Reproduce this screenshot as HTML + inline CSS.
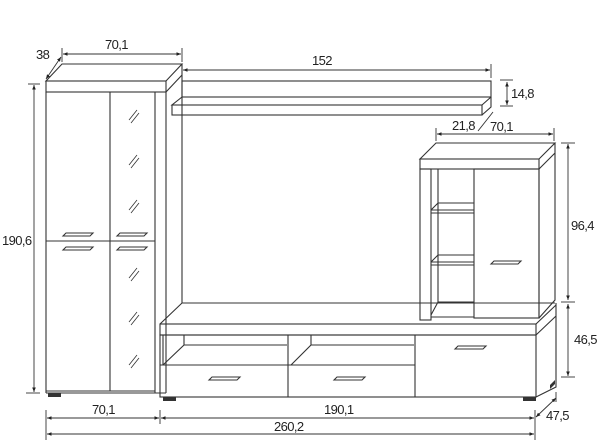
<!DOCTYPE html>
<html><head><meta charset="utf-8"><style>
html,body{margin:0;padding:0;background:#fff;}
svg{display:block}
text{font-family:"Liberation Sans",sans-serif;font-size:13px;fill:#222;letter-spacing:-0.6px}
</style></head><body>
<svg width="600" height="448" viewBox="0 0 600 448" xmlns="http://www.w3.org/2000/svg">
<defs><marker id="a" markerWidth="6" markerHeight="6" refX="5" refY="3" orient="auto-start-reverse"><path d="M0,1 L5,3 L0,5z" fill="#222"/></marker></defs>
<g fill="none" stroke="#333" stroke-width="1.1">
<path d="M46,81 L62,64 L182,64 L166,81 Z"/>
<rect x="46" y="81" width="120" height="11"/>
<path d="M166,92 L182,75"/>
<line x1="182" y1="64" x2="182" y2="303"/>
<line x1="166" y1="92" x2="166" y2="393"/>
<line x1="46" y1="92" x2="46" y2="393"/>
<line x1="155" y1="92" x2="155" y2="393"/>
<line x1="110" y1="92" x2="110" y2="391"/>
<line x1="46" y1="241" x2="155" y2="241"/>
<line x1="46" y1="391" x2="155" y2="391"/>
<line x1="46" y1="393" x2="166" y2="393"/>
<path d="M129,120 l8,-10 M131,123 l8,-10 M129,165 l8,-10 M131,168 l8,-10 M129,210 l8,-10 M131,213 l8,-10 M129,278 l8,-10 M131,281 l8,-10 M129,322 l8,-10 M131,325 l8,-10 M129,365 l8,-10 M131,368 l8,-10" stroke-width="0.8"/>
<path d="M63,236 l3,-3 h27 l-3,3 z M117,236 l3,-3 h27 l-3,3 z M63,250 l3,-3 h27 l-3,3 z M117,250 l3,-3 h27 l-3,3 z"/>
<rect x="182" y="81" width="309" height="16"/>
<path d="M182,97 L172,105 L482,105 L491,97"/>
<rect x="172" y="105" width="310" height="10"/>
<path d="M482,115 L491,107 L491,97"/>
<path d="M420,159 L436,143 L555,143 L539,159 Z"/>
<rect x="420" y="159" width="119" height="10"/>
<path d="M539,169 L555,153 M555,143 L555,300 L539,318"/>
<line x1="539" y1="169" x2="539" y2="318"/>
<rect x="420" y="169" width="11" height="151"/>
<rect x="474" y="169" width="65" height="149"/>
<line x1="438" y1="169" x2="438" y2="302"/>
<path d="M431,210 L438,203 L474,203 M431,210 H474 M431,213 H474"/>
<path d="M431,262 L438,255 L474,255 M431,262 H474 M431,265 H474"/>
<path d="M431,315 L438,302 L474,302 M431,317 H474"/>
<path d="M491,264 l3,-3 h27 l-3,3 z"/>
<path d="M160,324 L182,303 L555,303"/>
<rect x="160" y="324" width="376" height="11"/>
<path d="M536,324 L556,305 M536,335 L556,316 M556,303 L556,387 L536,397"/>
<rect x="160" y="335" width="376" height="62"/>
<line x1="160" y1="365" x2="415" y2="365"/>
<line x1="288" y1="335" x2="288" y2="397"/>
<line x1="415" y1="335" x2="415" y2="397"/>
<path d="M163,335 V365 M163,365 L184,345 V335 M184,345 H287"/>
<path d="M291,365 L311,345 V335 M311,345 H414"/>
<path d="M209,380 l3,-3 h28 l-3,3 z M334,380 l3,-3 h28 l-3,3 z M455,349 l3,-3 h28 l-3,3 z"/>
</g>
<g fill="#333">
<rect x="48" y="393" width="13" height="4"/>
<rect x="163" y="397" width="13" height="4"/>
<rect x="523" y="397" width="13" height="4"/>
<path d="M550,385 l5,-5 v4 l-5,5z"/>
</g>
<g stroke="#333" stroke-width="0.9" fill="none">
<line x1="63" y1="54" x2="181" y2="54" marker-start="url(#a)" marker-end="url(#a)"/>
<line x1="62" y1="48" x2="62" y2="62"/><line x1="182" y1="48" x2="182" y2="62"/>
<line x1="46" y1="79" x2="61" y2="57" marker-start="url(#a)" marker-end="url(#a)"/>
<line x1="34" y1="85" x2="34" y2="392" marker-start="url(#a)" marker-end="url(#a)"/>
<line x1="28" y1="84" x2="40" y2="84"/><line x1="26" y1="393" x2="40" y2="393"/>
<line x1="183" y1="70" x2="490" y2="70" marker-start="url(#a)" marker-end="url(#a)"/>
<line x1="491" y1="64" x2="491" y2="78"/>
<line x1="507" y1="82" x2="507" y2="105" marker-start="url(#a)" marker-end="url(#a)"/>
<line x1="500" y1="80" x2="513" y2="80"/><line x1="500" y1="106" x2="513" y2="106"/>
<line x1="478" y1="131" x2="493" y2="112"/>
<line x1="437" y1="134" x2="553" y2="134" marker-start="url(#a)" marker-end="url(#a)"/>
<line x1="436" y1="128" x2="436" y2="141"/><line x1="554" y1="128" x2="554" y2="141"/>
<line x1="568" y1="144" x2="568" y2="300" marker-start="url(#a)" marker-end="url(#a)"/>
<line x1="561" y1="143" x2="575" y2="143"/><line x1="561" y1="302" x2="575" y2="302"/>
<line x1="568" y1="304" x2="568" y2="376" marker-start="url(#a)" marker-end="url(#a)"/>
<line x1="561" y1="377" x2="575" y2="377"/>
<line x1="47" y1="418" x2="159" y2="418" marker-start="url(#a)" marker-end="url(#a)"/>
<line x1="161" y1="418" x2="534" y2="418" marker-start="url(#a)" marker-end="url(#a)"/>
<line x1="47" y1="434" x2="534" y2="434" marker-start="url(#a)" marker-end="url(#a)"/>
<line x1="46" y1="410" x2="46" y2="440"/><line x1="160" y1="410" x2="160" y2="424"/><line x1="535" y1="410" x2="535" y2="440"/>
<line x1="536" y1="417" x2="556" y2="398" marker-start="url(#a)" marker-end="url(#a)"/>
<line x1="556" y1="392" x2="556" y2="402"/>
</g>
<text x="36" y="59">38</text>
<text x="105" y="49">70,1</text>
<text x="2" y="245">190,6</text>
<text x="312" y="65">152</text>
<text x="511" y="98">14,8</text>
<text x="452" y="130">21,8</text>
<text x="490" y="131">70,1</text>
<text x="571" y="230">96,4</text>
<text x="574" y="344">46,5</text>
<text x="92" y="414">70,1</text>
<text x="324" y="414">190,1</text>
<text x="274" y="431">260,2</text>
<text x="546" y="420">47,5</text>
</svg>
</body></html>
